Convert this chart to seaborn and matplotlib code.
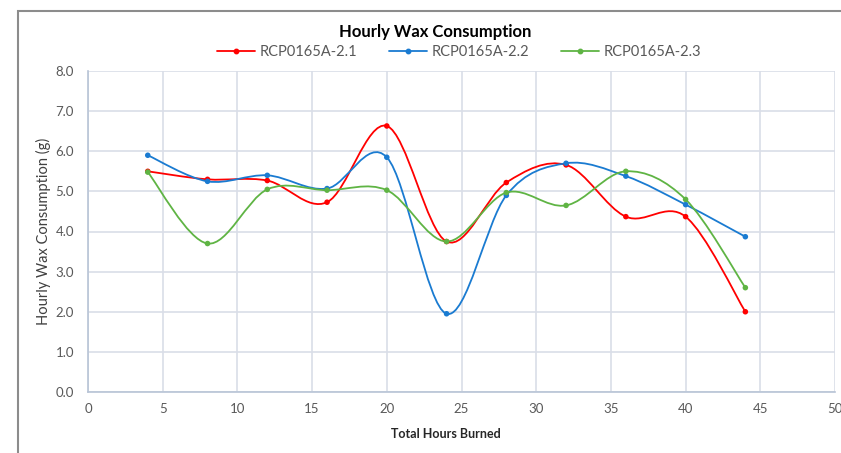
import numpy as np
import pandas as pd
import matplotlib
matplotlib.use("Agg")
import matplotlib.pyplot as plt
import seaborn as sns
from matplotlib.path import Path
from matplotlib.patches import PathPatch, Rectangle
from matplotlib.lines import Line2D
from matplotlib.ticker import FormatStrFormatter, MultipleLocator

hours = [4, 8, 12, 16, 20, 24, 28, 32, 36, 40, 44]
series_names = ["RCP0165A-2.1", "RCP0165A-2.2", "RCP0165A-2.3"]
s21 = [5.50, 5.30, 5.27, 4.73, 6.63, 3.75, 5.22, 5.66, 4.37, 4.37, 2.00]
s22 = [5.90, 5.25, 5.40, 5.07, 5.85, 1.95, 4.90, 5.70, 5.38, 4.67, 3.87]
s23 = [5.48, 3.70, 5.05, 5.03, 5.03, 3.75, 4.97, 4.65, 5.50, 4.80, 2.60]
colors = ["#ff0000", "#1a7bd1", "#5fb444"]

df = pd.DataFrame({
    "hours": hours * 3,
    "value": s21 + s22 + s23,
    "series": sum([[n] * len(hours) for n in series_names], []),
})

sns.set_theme(style="white")
plt.rcParams["font.family"] = ["Lato", "DejaVu Sans"]

fig = plt.figure(figsize=(8.41, 4.53), dpi=100)
ax = fig.add_axes([88 / 841, 1 - 392 / 453, (835 - 88) / 841, (392 - 71) / 453])


def smooth_path(xs, ys):
    pts = np.column_stack([xs, ys]).astype(float)
    n = len(pts)
    verts = [pts[0]]
    codes = [Path.MOVETO]
    for i in range(n - 1):
        p0 = pts[i - 1] if i > 0 else pts[i]
        p1 = pts[i]
        p2 = pts[i + 1]
        p3 = pts[i + 2] if i + 2 < n else pts[i + 1]
        c1 = p1 + (p2 - p0) / 6.0
        c2 = p2 - (p3 - p1) / 6.0
        verts += [c1, c2, p2]
        codes += [Path.CURVE4] * 3
    return Path(verts, codes)


for name, col in zip(series_names, colors):
    sub = df[df["series"] == name]
    path = smooth_path(sub["hours"].values, sub["value"].values)
    ax.add_patch(PathPatch(path, facecolor="none", edgecolor=col, lw=1.3, zorder=3))

sns.scatterplot(data=df, x="hours", y="value", hue="series", palette=colors,
                s=16, linewidth=0, legend=False, ax=ax, zorder=4)

ax.set_xlim(0, 50)
ax.set_ylim(0, 8)
ax.xaxis.set_major_locator(MultipleLocator(5))
ax.yaxis.set_major_locator(MultipleLocator(1))
ax.yaxis.set_major_formatter(FormatStrFormatter("%.1f"))
ax.grid(True, color="#d9dee8", lw=1.2)
ax.set_axisbelow(True)
for sp in ["top", "right"]:
    ax.spines[sp].set_visible(False)
for sp in ["left", "bottom"]:
    ax.spines[sp].set_color("#b8c4d6")
    ax.spines[sp].set_linewidth(1.2)
ax.tick_params(axis="both", length=0, labelsize=9.5, colors="#595959", pad=8)
ax.tick_params(axis="y", pad=10)

ax.set_xlabel("Total Hours Burned", fontsize=9, fontweight="bold", color="#262626")
ax.xaxis.set_label_coords((446 - 88) / 747, -(428 - 392) / 321)
ax.set_ylabel("Hourly Wax Consumption (g)", fontsize=10.5, color="#404040")
ax.yaxis.set_label_coords(-(88 - 51) / 747, 0.5)

fig.text(435 / 841, 1 - 32 / 453, "Hourly Wax Consumption", ha="center", va="center",
         fontsize=12, fontweight="bold", color="#000000")

handles = [Line2D([0], [0], color=c, lw=1.3, marker="o", markersize=3.2) for c in colors]
fig.legend(handles, series_names, loc="center", bbox_to_anchor=(459 / 841, 1 - 52 / 453),
           ncol=3, frameon=False, fontsize=10.5, labelcolor="#595959",
           handlelength=2.6, columnspacing=2.2, handletextpad=0.3)

fig.patches.append(Rectangle((18 / 841, -0.2), 2.0, 1.2 - 11 / 453,
                             transform=fig.transFigure, fill=False,
                             edgecolor="#8c8c8c", lw=1.5, figure=fig))

fig.savefig("out.png", dpi=100, facecolor="white")
